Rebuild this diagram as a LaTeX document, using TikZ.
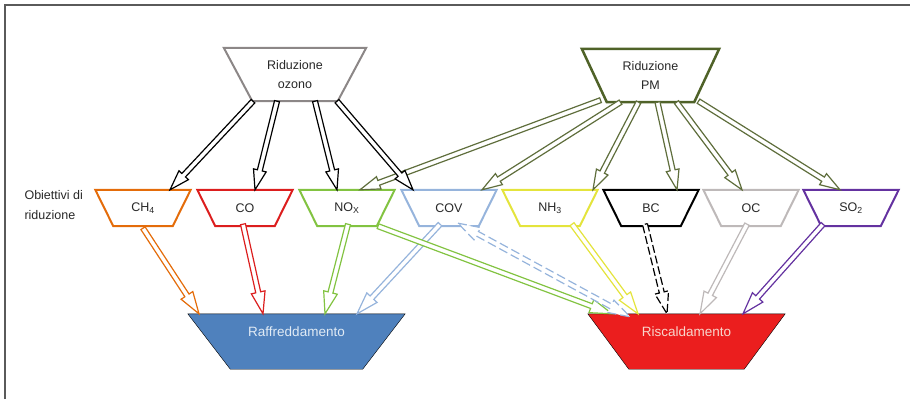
\documentclass[tikz,border=0pt]{standalone}
\usepackage{fontspec}
\setmainfont{Liberation Sans}
\usetikzlibrary{calc,backgrounds}
\definecolor{txt}{RGB}{40,40,40}
\definecolor{framec}{RGB}{90,90,90}
\definecolor{ozc}{RGB}{140,135,135}
\definecolor{pmc}{RGB}{79,98,40}
\definecolor{pma}{RGB}{95,110,60}
\definecolor{ch4c}{RGB}{228,108,10}
\definecolor{coc}{RGB}{220,30,30}
\definecolor{noxc}{RGB}{130,195,65}
\definecolor{covc}{RGB}{150,180,220}
\definecolor{nh3c}{RGB}{228,228,60}
\definecolor{occ}{RGB}{190,185,185}
\definecolor{so2c}{RGB}{100,50,160}
\definecolor{raffc}{RGB}{79,129,189}
\definecolor{rafft}{RGB}{225,235,245}
\definecolor{riscc}{RGB}{235,30,30}
\definecolor{risct}{RGB}{248,215,205}
\def\ahl{20pt}\def\ahw{6.5pt}\def\asw{2.5pt}
\newcommand\barrow[3][]{%
  \path (#2) coordinate (bA) (#3) coordinate (bB);
  \coordinate (bH) at ($(bB)!\ahl!(bA)$);
  \draw[arr,#1] ($(bA)!\asw!90:(bB)$) -- ($(bH)!\asw!-90:(bA)$) -- ($(bH)!\ahw!-90:(bA)$) -- (bB) -- ($(bH)!\ahw!90:(bA)$) -- ($(bH)!\asw!90:(bA)$) -- ($(bA)!\asw!-90:(bB)$) -- cycle;}
\newcommand\dbarrow[3][]{%
  \path (#2) coordinate (bA) (#3) coordinate (bB);
  \coordinate (bHA) at ($(bA)!\ahl!(bB)$);
  \coordinate (bHB) at ($(bB)!\ahl!(bA)$);
  \draw[arr,#1] (bA) -- ($(bHA)!\ahw!90:(bB)$) -- ($(bHA)!\asw!90:(bB)$) -- ($(bHB)!\asw!-90:(bA)$) -- ($(bHB)!\ahw!-90:(bA)$) -- (bB) -- ($(bHB)!\ahw!90:(bA)$) -- ($(bHB)!\asw!90:(bA)$) -- ($(bHA)!\asw!-90:(bB)$) -- ($(bHA)!\ahw!-90:(bB)$) -- cycle;}
\newcommand\trap[3]{\draw[#3] (#1.north west) -- (#1.north east) -- ([xshift=-#2]#1.south east) -- ([xshift=#2]#1.south west) -- cycle;}
\tikzset{
  box/.style={rectangle, inner sep=0pt, minimum height=36pt, minimum width=95pt, font=\fontsize{12.5}{14}\selectfont, text=txt},
  obj/.style={line width=2pt, line join=miter, fill=white},
  arr/.style={line width=1.2pt, fill=white, line join=miter},
}
\begin{document}
\begin{tikzpicture}[x=1pt,y=-1pt]
\useasboundingbox (0,0) rectangle (910,399);
\draw[framec, line width=2pt] (5,399) -- (5,5) -- (910,5);

% top nodes
\node[box, minimum width=142pt, minimum height=53pt, align=center, font=\fontsize{12.5}{19}\selectfont] (oz) at (295,74.5) {Riduzione\\ozono};
\node[box, minimum width=137pt, minimum height=53pt, align=center, font=\fontsize{12.5}{19}\selectfont] (pm) at (650.5,75.5) {Riduzione\\PM};

% objectives
\node[anchor=west, align=left, text=txt, font=\fontsize{12.5}{20}\selectfont] (lab) at (21,205) {Obiettivi di\\riduzione};
\node[box] (ch4) at (143,208) {CH\textsubscript{4}};
\node[box] (co) at (245,208) {CO};
\node[box] (nox) at (347,208) {NO\textsubscript{X}};
\node[box] (cov) at (449,208) {COV};
\node[box] (nh3) at (550,208) {NH\textsubscript{3}};
\node[box] (bc) at (651,208) {BC};
\node[box] (oc) at (751,208) {OC};
\node[box] (so2) at (851,208) {SO\textsubscript{2}};

% effects
\node[rectangle, inner sep=0pt, minimum width=217pt, minimum height=55pt,
  label={[text=rafft, font=\fontsize{13.5}{15}\selectfont, yshift=9.5pt]center:Raffreddamento}] (raff) at (296.5,341.5) {};
\node[rectangle, inner sep=0pt, minimum width=197pt, minimum height=55pt,
  label={[text=risct, font=\fontsize{13.5}{15}\selectfont, yshift=9.5pt]center:Riscaldamento}] (risc) at (686.5,341.5) {};

\begin{scope}[on background layer]
\trap{oz}{28.5}{draw=ozc, line width=2pt, fill=white}
\trap{pm}{25}{draw=pmc, line width=2.5pt, fill=white}
\trap{ch4}{18}{obj, draw=ch4c}
\trap{co}{18}{obj, draw=coc}
\trap{nox}{18}{obj, draw=noxc}
\trap{cov}{18}{obj, draw=covc}
\trap{nh3}{18}{obj, draw=nh3c}
\trap{bc}{18}{obj, draw=black}
\trap{oc}{18}{obj, draw=occ}
\trap{so2}{18}{obj, draw=so2c}
\trap{raff}{42.5}{fill=raffc}
\trap{risc}{41}{fill=riscc}
\end{scope}

% PM arrows
\barrow[draw=pma]{[shift={(-50,-2)}]pm.south}{[xshift=13]nox.north}
\barrow[draw=pma]{[xshift=-30]pm.south}{[xshift=33]cov.north}
\barrow[draw=pma]{[xshift=-12]pm.south}{[xshift=43]nh3.north}
\barrow[draw=pma]{[xshift=7]pm.south}{[xshift=26]bc.north}
\barrow[draw=pma]{[xshift=26]pm.south}{[xshift=-9]oc.north}
\barrow[draw=pma]{[shift={(48,-1)}]pm.south}{[xshift=-11]so2.north}

% ozone arrows
\barrow[draw=black]{[xshift=-42]oz.south}{[xshift=27]ch4.north}
\barrow[draw=black]{[xshift=-18]oz.south}{[xshift=10]co.north}
\barrow[draw=black]{[xshift=20]oz.south}{[xshift=-10]nox.north}
\barrow[draw=black]{[xshift=42]oz.south}{[xshift=-36]cov.north}

% to effects
\def\ahl{22pt}\def\ahw{7pt}
\barrow[draw=ch4c]{[yshift=-2]ch4.south}{[xshift=-97.5]raff.north}
\barrow[draw=coc]{[shift={(-2,-2)}]co.south}{[xshift=-33.5]raff.north}
\barrow[draw=noxc]{[shift={(1,-2)}]nox.south}{[xshift=28.5]raff.north}
\barrow[draw=covc]{[shift={(-9,-2)}]cov.south}{[xshift=60.5]raff.north}
\barrow[draw=noxc]{[xshift=31]nox.south}{[xshift=-74.5]risc.north}
\dbarrow[draw=covc, dash pattern=on 9pt off 4pt]{[shift={(9,-3)}]cov.south}{[shift={(-56.5,3)}]risc.north}
\barrow[draw=nh3c]{[shift={(22,-2)}]nh3.south}{[xshift=-48.5]risc.north}
\barrow[draw=black, dash pattern=on 8pt off 3pt]{[shift={(-6,-2)}]bc.south}{[xshift=-19.5]risc.north}
\barrow[draw=occ]{[shift={(-4,-2)}]oc.south}{[xshift=13.5]risc.north}
\barrow[draw=so2c]{[shift={(-28,-2)}]so2.south}{[xshift=56.5]risc.north}
\end{tikzpicture}
\end{document}
